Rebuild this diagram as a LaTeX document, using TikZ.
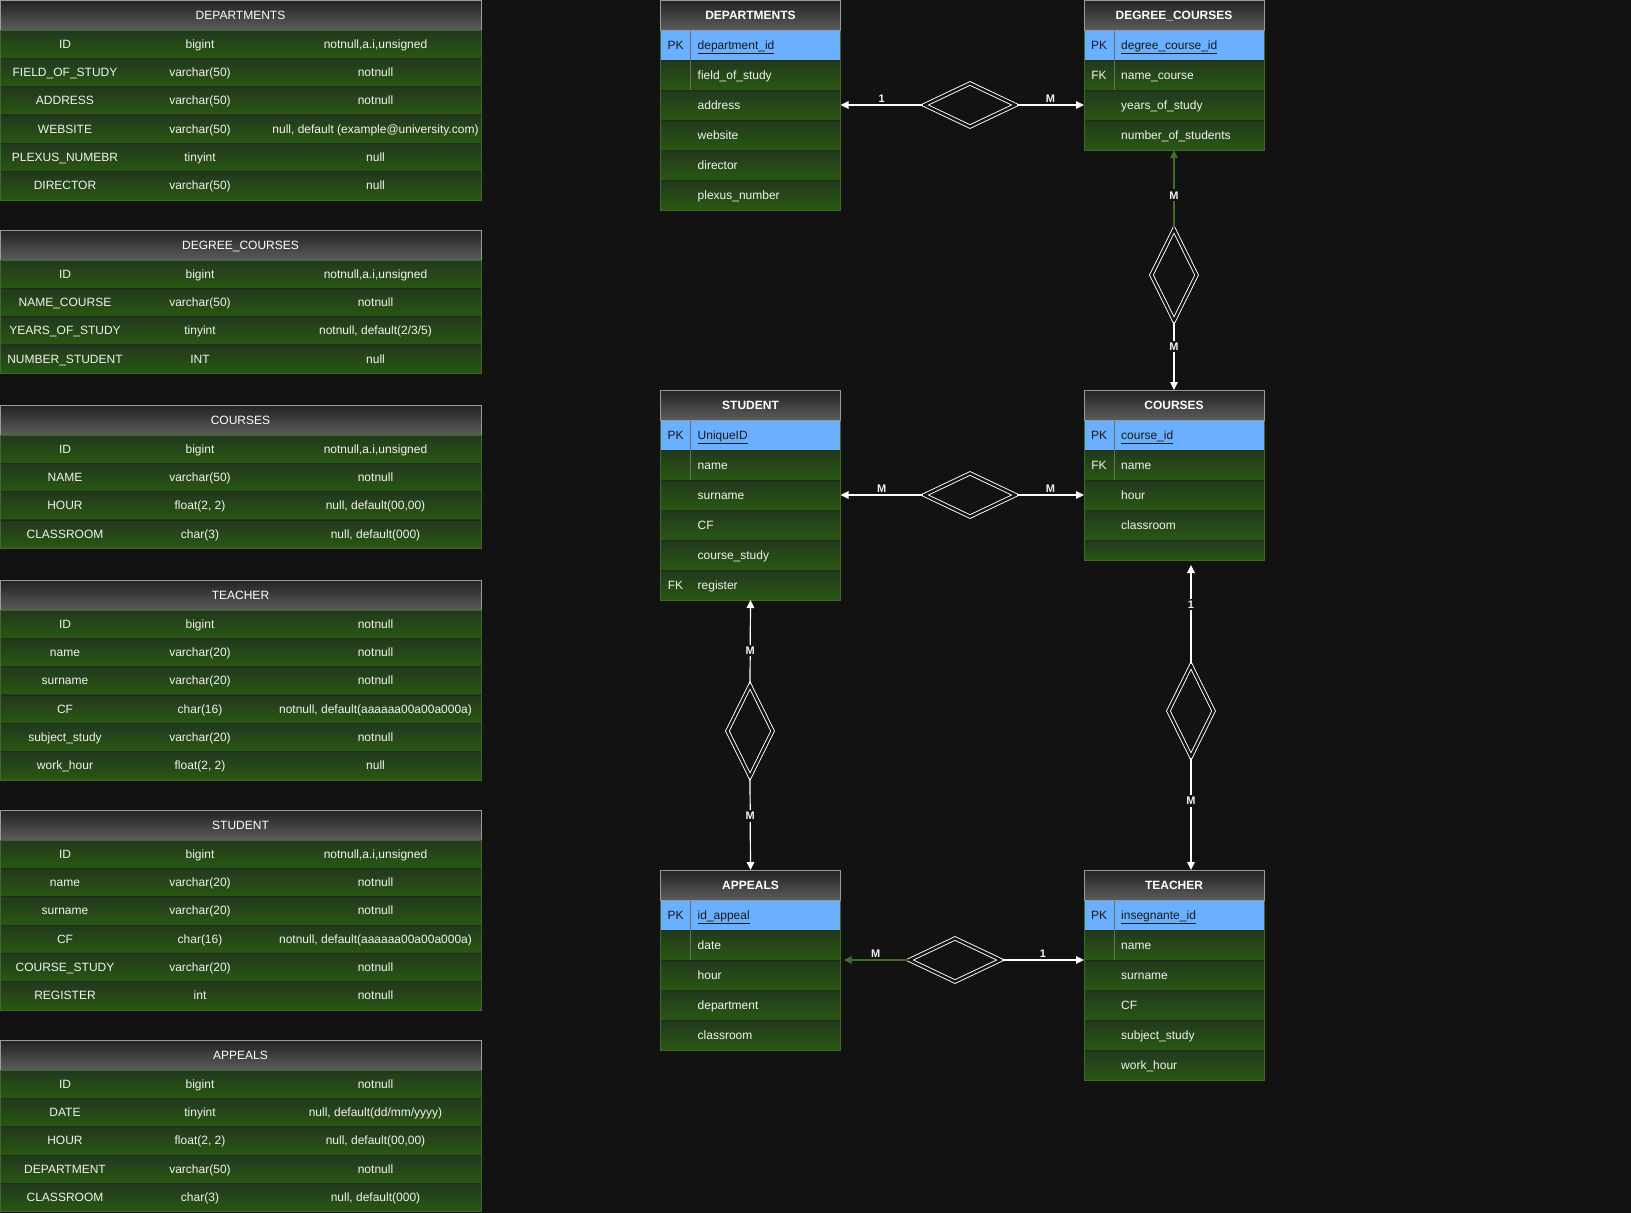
\documentclass[tikz,border=0pt]{standalone}
\usepackage{fontspec}
\setmainfont{Liberation Sans}
\usetikzlibrary{arrows.meta,shapes.geometric,positioning}

\definecolor{canvas}{HTML}{121212}
\definecolor{rowtop}{HTML}{22381E}
\definecolor{rowbot}{HTML}{2A5812}
\definecolor{rowedge}{HTML}{1C2E1A}
\definecolor{tabedge}{HTML}{3D6B27}
\definecolor{headtop}{HTML}{222222}
\definecolor{headbot}{HTML}{5C5C5C}
\definecolor{headedge}{HTML}{9A9A9A}
\definecolor{pkblue}{HTML}{6AB0FF}
\definecolor{ink}{HTML}{F2F2F2}
\definecolor{pkink}{HTML}{1A1A1A}
\definecolor{linkgreen}{HTML}{3F6E2A}

\tikzset{
  txt/.style={font=\fontsize{12}{14}\selectfont, text height=10.4pt, text depth=2.4pt},
  cell/.style={txt, top color=rowtop, bottom color=rowbot, draw=none,
    anchor=north west, inner sep=0pt, outer sep=0pt, minimum height=28.33pt, text=ink},
  lhead/.style={txt, top color=headtop, bottom color=headbot, draw=headedge, line width=.8pt,
    anchor=north west, inner sep=0pt, outer sep=0pt, minimum width=481pt, minimum height=30pt, text=white},
  ehead/.style={lhead, minimum width=180pt, font=\bfseries\fontsize{12}{14}\selectfont},
  erow/.style={cell, draw=rowedge, line width=.8pt, minimum width=180pt, minimum height=30pt},
  pkrow/.style={fill=pkblue, draw=headedge, line width=.8pt, anchor=north west, inner sep=0pt,
    outer sep=0pt, minimum width=180pt, minimum height=30pt},
  etab/.style={draw=tabedge, line width=.8pt, anchor=north west, inner sep=0pt, outer sep=0pt,
    minimum width=180pt},
  ftext/.style={txt, anchor=west, inner sep=0pt, text=ink},
  ktext/.style={txt, inner sep=0pt, text=ink},
  sep/.style={draw=rowedge, line width=.9pt},
  keyline/.style={draw=headedge!70!black, line width=.8pt},
  link/.style={draw=white, line width=1.2pt, -{Triangle[length=8pt,width=7.5pt]}},
  glink/.style={link, draw=linkgreen, color=linkgreen},
  card/.style={text=ink, font=\bfseries\fontsize{11}{13}\selectfont, inner sep=2pt},
  vcard/.style={card, fill=canvas},
  rel/.style={diamond, draw=white, double=canvas, line width=.9pt, double distance=2.4pt,
    minimum width=92pt, minimum height=44pt, inner sep=0pt, outer sep=1pt},
  relv/.style={rel, minimum width=46pt, minimum height=92pt}
}

\begin{document}
\begin{tikzpicture}[x=1pt, y=-1pt]
\path[use as bounding box, fill=canvas] (0,0) rectangle (1631,1213);

% tables on the left
\node[lhead] (ldep) at (0,0) {DEPARTMENTS};
\foreach \a/\b/\c [count=\i] in {ID/bigint/{notnull,a.i,unsigned}, FIELD\_OF\_STUDY/varchar(50)/notnull,
  ADDRESS/varchar(50)/notnull, WEBSITE/varchar(50)/{null, default (example@university.com)},
  PLEXUS\_NUMEBR/tinyint/null, DIRECTOR/varchar(50)/null}{
  \node[cell, minimum width=130pt] (ldep-\i-a) at (0,{1.67+28.33*\i}) {\a};
  \node[cell, minimum width=140pt] (ldep-\i-b) at (130,{1.67+28.33*\i}) {\b};
  \node[cell, minimum width=211pt] (ldep-\i-c) at (270,{1.67+28.33*\i}) {\c};
  \draw[sep] (ldep-\i-a.north west) -- (ldep-\i-c.north east);
}
\draw[tabedge, line width=.8pt] (ldep.south west) rectangle (ldep-6-c.south east);

\node[lhead] (ldc) at (0,230) {DEGREE\_COURSES};
\foreach \a/\b/\c [count=\i] in {ID/bigint/{notnull,a.i,unsigned}, NAME\_COURSE/varchar(50)/notnull,
  YEARS\_OF\_STUDY/tinyint/{notnull, default(2/3/5)}, NUMBER\_STUDENT/INT/null}{
  \node[cell, minimum width=130pt] (ldc-\i-a) at (0,{231.67+28.33*\i}) {\a};
  \node[cell, minimum width=140pt] (ldc-\i-b) at (130,{231.67+28.33*\i}) {\b};
  \node[cell, minimum width=211pt] (ldc-\i-c) at (270,{231.67+28.33*\i}) {\c};
  \draw[sep] (ldc-\i-a.north west) -- (ldc-\i-c.north east);
}
\draw[tabedge, line width=.8pt] (ldc.south west) rectangle (ldc-4-c.south east);

\node[lhead] (lco) at (0,405) {COURSES};
\foreach \a/\b/\c [count=\i] in {ID/bigint/{notnull,a.i,unsigned}, NAME/varchar(50)/notnull,
  HOUR/{float(2, 2)}/{null, default(00,00)}, CLASSROOM/char(3)/{null, default(000)}}{
  \node[cell, minimum width=130pt] (lco-\i-a) at (0,{406.67+28.33*\i}) {\a};
  \node[cell, minimum width=140pt] (lco-\i-b) at (130,{406.67+28.33*\i}) {\b};
  \node[cell, minimum width=211pt] (lco-\i-c) at (270,{406.67+28.33*\i}) {\c};
  \draw[sep] (lco-\i-a.north west) -- (lco-\i-c.north east);
}
\draw[tabedge, line width=.8pt] (lco.south west) rectangle (lco-4-c.south east);

\node[lhead] (lte) at (0,580) {TEACHER};
\foreach \a/\b/\c [count=\i] in {ID/bigint/notnull, name/varchar(20)/notnull, surname/varchar(20)/notnull,
  CF/char(16)/{notnull, default(aaaaaa00a00a000a)}, subject\_study/varchar(20)/notnull,
  work\_hour/{float(2, 2)}/null}{
  \node[cell, minimum width=130pt] (lte-\i-a) at (0,{581.67+28.33*\i}) {\a};
  \node[cell, minimum width=140pt] (lte-\i-b) at (130,{581.67+28.33*\i}) {\b};
  \node[cell, minimum width=211pt] (lte-\i-c) at (270,{581.67+28.33*\i}) {\c};
  \draw[sep] (lte-\i-a.north west) -- (lte-\i-c.north east);
}
\draw[tabedge, line width=.8pt] (lte.south west) rectangle (lte-6-c.south east);

\node[lhead] (lst) at (0,810) {STUDENT};
\foreach \a/\b/\c [count=\i] in {ID/bigint/{notnull,a.i,unsigned}, name/varchar(20)/notnull,
  surname/varchar(20)/notnull, CF/char(16)/{notnull, default(aaaaaa00a00a000a)},
  COURSE\_STUDY/varchar(20)/notnull, REGISTER/int/notnull}{
  \node[cell, minimum width=130pt] (lst-\i-a) at (0,{811.67+28.33*\i}) {\a};
  \node[cell, minimum width=140pt] (lst-\i-b) at (130,{811.67+28.33*\i}) {\b};
  \node[cell, minimum width=211pt] (lst-\i-c) at (270,{811.67+28.33*\i}) {\c};
  \draw[sep] (lst-\i-a.north west) -- (lst-\i-c.north east);
}
\draw[tabedge, line width=.8pt] (lst.south west) rectangle (lst-6-c.south east);

\node[lhead] (lap) at (0,1040) {APPEALS};
\foreach \a/\b/\c [count=\i] in {ID/bigint/notnull, DATE/tinyint/{null, default(dd/mm/yyyy)},
  HOUR/{float(2, 2)}/{null, default(00,00)}, DEPARTMENT/varchar(50)/notnull,
  CLASSROOM/char(3)/{null, default(000)}}{
  \node[cell, minimum width=130pt] (lap-\i-a) at (0,{1041.67+28.33*\i}) {\a};
  \node[cell, minimum width=140pt] (lap-\i-b) at (130,{1041.67+28.33*\i}) {\b};
  \node[cell, minimum width=211pt] (lap-\i-c) at (270,{1041.67+28.33*\i}) {\c};
  \draw[sep] (lap-\i-a.north west) -- (lap-\i-c.north east);
}
\draw[tabedge, line width=.8pt] (lap.south west) rectangle (lap-5-c.south east);

% ER entities
\node[pkrow] (edep-0) at (660.5,30) {};
\node[ktext, text=pkink] (edep-0-k) at ([xshift=15pt]edep-0.west) {PK};
\node[ftext, text=pkink, right=37pt of edep-0.west] (edep-0-f) {\underline{department\_id}};
\foreach \k/\f [count=\i] in {/field\_of\_study, /address, /website, /director, /plexus\_number}{
  \node[erow] (edep-\i) at (660.5,{30+30*\i}) {};
  \node[ktext] (edep-\i-k) at ([xshift=15pt]edep-\i.west) {\k};
  \node[ftext, right=37pt of edep-\i.west] (edep-\i-f) {\f};
}
\draw[keyline] ([xshift=30pt]edep-0.north west) -- ([xshift=30pt]edep-1.south west);
\node[etab, minimum height=210pt] (tdep) at (660.5,0) {};
\node[ehead] (edep-h) at (660.5,0) {DEPARTMENTS};

\node[pkrow] (edc-0) at (1084,30) {};
\node[ktext, text=pkink] (edc-0-k) at ([xshift=15pt]edc-0.west) {PK};
\node[ftext, text=pkink, right=37pt of edc-0.west] (edc-0-f) {\underline{degree\_course\_id}};
\foreach \k/\f [count=\i] in {FK/name\_course, /years\_of\_study, /number\_of\_students}{
  \node[erow] (edc-\i) at (1084,{30+30*\i}) {};
  \node[ktext] (edc-\i-k) at ([xshift=15pt]edc-\i.west) {\k};
  \node[ftext, right=37pt of edc-\i.west] (edc-\i-f) {\f};
}
\draw[keyline] ([xshift=30pt]edc-0.north west) -- ([xshift=30pt]edc-1.south west);
\node[etab, minimum height=150pt] (tdc) at (1084,0) {};
\node[ehead] (edc-h) at (1084,0) {DEGREE\_COURSES};

\node[pkrow] (est-0) at (660.5,420) {};
\node[ktext, text=pkink] (est-0-k) at ([xshift=15pt]est-0.west) {PK};
\node[ftext, text=pkink, right=37pt of est-0.west] (est-0-f) {\underline{UniqueID}};
\foreach \k/\f [count=\i] in {/name, /surname, /CF, /course\_study, FK/register}{
  \node[erow] (est-\i) at (660.5,{420+30*\i}) {};
  \node[ktext] (est-\i-k) at ([xshift=15pt]est-\i.west) {\k};
  \node[ftext, right=37pt of est-\i.west] (est-\i-f) {\f};
}
\draw[keyline] ([xshift=30pt]est-0.north west) -- ([xshift=30pt]est-1.south west);
\node[etab, minimum height=210pt] (tst) at (660.5,390) {};
\node[ehead] (est-h) at (660.5,390) {STUDENT};

\node[pkrow] (eco-0) at (1084,420) {};
\node[ktext, text=pkink] (eco-0-k) at ([xshift=15pt]eco-0.west) {PK};
\node[ftext, text=pkink, right=37pt of eco-0.west] (eco-0-f) {\underline{course\_id}};
\foreach \k/\f [count=\i] in {FK/name, /hour, /classroom}{
  \node[erow] (eco-\i) at (1084,{420+30*\i}) {};
  \node[ktext] (eco-\i-k) at ([xshift=15pt]eco-\i.west) {\k};
  \node[ftext, right=37pt of eco-\i.west] (eco-\i-f) {\f};
}
\node[erow, minimum height=20pt] (eco-4) at (1084,540) {};
\draw[keyline] ([xshift=30pt]eco-0.north west) -- ([xshift=30pt]eco-1.south west);
\node[etab, minimum height=170pt] (tco) at (1084,390) {};
\node[ehead] (eco-h) at (1084,390) {COURSES};

\node[pkrow] (eap-0) at (660.5,900) {};
\node[ktext, text=pkink] (eap-0-k) at ([xshift=15pt]eap-0.west) {PK};
\node[ftext, text=pkink, right=37pt of eap-0.west] (eap-0-f) {\underline{id\_appeal}};
\foreach \k/\f [count=\i] in {/date, /hour, /department, /classroom}{
  \node[erow] (eap-\i) at (660.5,{900+30*\i}) {};
  \node[ktext] (eap-\i-k) at ([xshift=15pt]eap-\i.west) {\k};
  \node[ftext, right=37pt of eap-\i.west] (eap-\i-f) {\f};
}
\draw[keyline] ([xshift=30pt]eap-0.north west) -- ([xshift=30pt]eap-1.south west);
\node[etab, minimum height=180pt] (tap) at (660.5,870) {};
\node[ehead] (eap-h) at (660.5,870) {APPEALS};

\node[pkrow] (ete-0) at (1084,900) {};
\node[ktext, text=pkink] (ete-0-k) at ([xshift=15pt]ete-0.west) {PK};
\node[ftext, text=pkink, right=37pt of ete-0.west] (ete-0-f) {\underline{insegnante\_id}};
\foreach \k/\f [count=\i] in {/name, /surname, /CF, /subject\_study, /work\_hour}{
  \node[erow] (ete-\i) at (1084,{900+30*\i}) {};
  \node[ktext] (ete-\i-k) at ([xshift=15pt]ete-\i.west) {\k};
  \node[ftext, right=37pt of ete-\i.west] (ete-\i-f) {\f};
}
\draw[keyline] ([xshift=30pt]ete-0.north west) -- ([xshift=30pt]ete-1.south west);
\node[etab, minimum height=210pt] (tte) at (1084,870) {};
\node[ehead] (ete-h) at (1084,870) {TEACHER};

% relationships
\node[rel] (rdd) at (970,105) {};
\node[relv] (rdc) at (1174,275) {};
\node[rel] (rsc) at (970,495) {};
\node[relv] (rsa) at (750,731) {};
\node[relv] (rct) at (1191,711) {};
\node[rel] (rat) at (955,960) {};

\draw[link] (rdd.west) -- node[card, above] (c1) {1} (tdep.east);
\draw[link] (rdd.east) -- node[card, above] (c2) {M} (rdd.east -| tdc.west);
\draw[glink] (rdc.north) -- node[vcard, pos=.42] (c3) {M} (tdc.south);
\draw[link] (rdc.south) -- node[vcard, pos=.36] (c4) {M} (tco.north);
\draw[link] (rsc.west) -- node[card, above] (c5) {M} (tst.east);
\draw[link] (rsc.east) -- node[card, above] (c6) {M} (rsc.east -| tco.west);
\draw[link] (rsa.north) -- node[vcard, pos=.4] (c7) {M} (tst.south);
\draw[link] (rsa.south) -- node[vcard, pos=.41] (c8) {M} (tap.north);
\draw[link] (rct.north) -- node[vcard, pos=.6] (c9) {1} ([yshift=-5pt]rct.north |- tco.south);
\draw[link] (rct.south) -- node[vcard, pos=.385] (c10) {M} (rct.south |- tte.north);
\draw[glink] (rat.west) -- node[card, above] (c11) {M} ([xshift=3pt]tap.east);
\draw[link] (rat.east) -- node[card, above] (c12) {1} (rat.east -| tte.west);
\end{tikzpicture}
\end{document}
